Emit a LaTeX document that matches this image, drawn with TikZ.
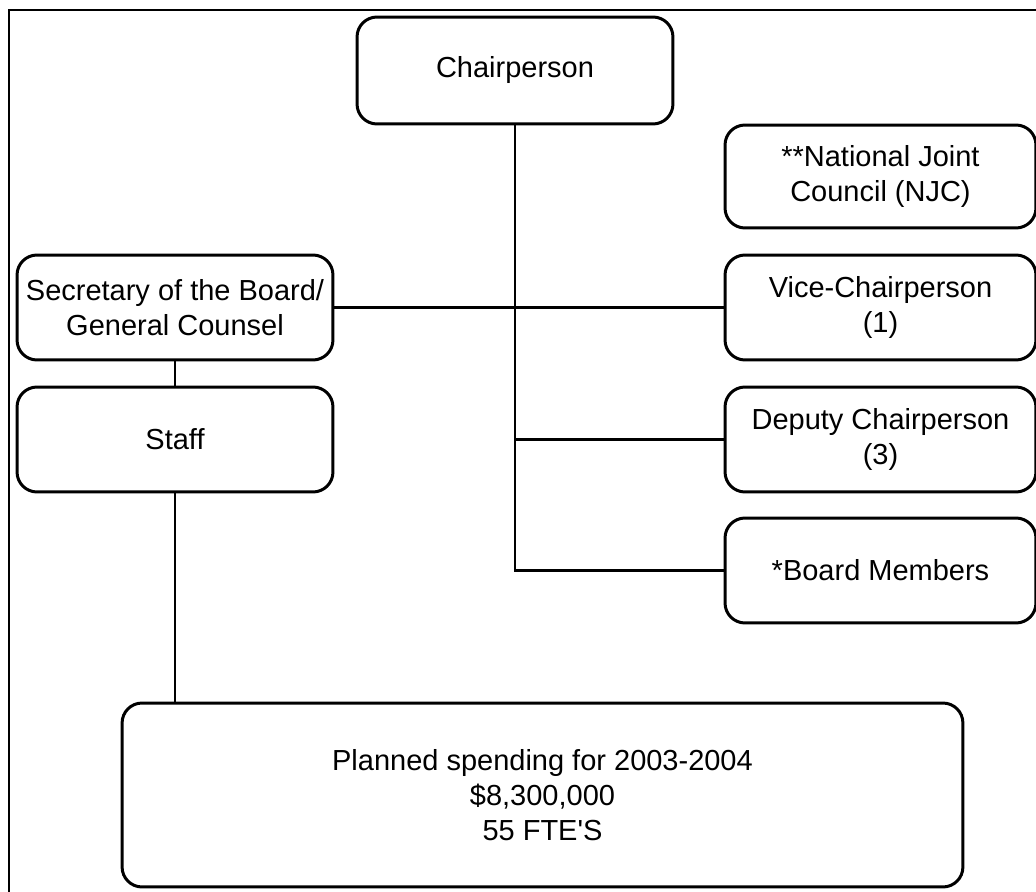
\documentclass[tikz,border=0pt]{standalone}
\usepackage{fontspec}
\setmainfont{Liberation Sans}
\usepackage{tikz}
\usetikzlibrary{positioning}
\tikzset{
	post/.style={draw, line width=1.7pt, rounded corners=0.4cm, align=center,
		inner sep=0pt, minimum width=6.32cm, minimum height=2.1cm,
		font=\fontsize{16.5}{20}\selectfont},
	link/.style={line width=1.7pt}
}

\begin{document}
\begin{tikzpicture}[x=0.02cm, y=-0.02cm]
		
		\useasboundingbox (0,0) rectangle (1036,892);
		\draw[line width=1pt] (9,10) rectangle (1060,920);
		
		\node[post, minimum height=2.14cm] (chair) at (515,70.5) {Chairperson};
		\node[post, minimum width=6.22cm, minimum height=2.06cm] (njc) at (880.5,176.5) {**National Joint\\Council (NJC)};
		\node[post, minimum width=6.22cm] (vice) at (880.5,307.5) {Vice-Chairperson\\(1)};
		\node[post, minimum width=6.22cm] (deputy) at (880.5,439.5) {Deputy Chairperson\\(3)};
		\node[post, minimum width=6.22cm] (board) at (880.5,570.5) {*Board Members};
		\node[post] (secretary) at (175,307.5) {Secretary of the Board/\\General Counsel};
		\node[post] (staff) at (175,439.5) {Staff};
		\node[post, minimum width=16.82cm, minimum height=3.68cm] (spending) at (542.5,795)
			{Planned spending for 2003-2004\\\$8,300,000\\55 FTE\textquotesingle S};
		
		\draw[link] (chair.south) |- (board.west);
		\draw[link] (secretary.east) -- (vice.west);
		\draw[link] (chair.south |- deputy.west) -- (deputy.west);
		\draw[link] (secretary.south) -- (staff.north);
		\draw[link] (staff.south) -- (staff.south |- spending.north);
		
\end{tikzpicture}
\end{document}
